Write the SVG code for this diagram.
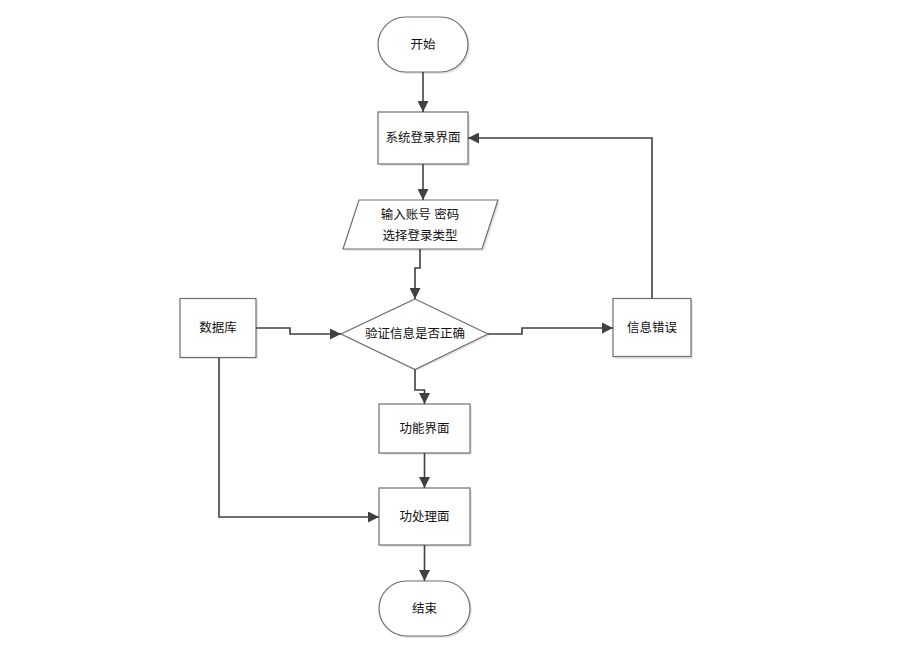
<svg xmlns="http://www.w3.org/2000/svg" width="898" height="650" viewBox="0 0 898 650">
<defs>
<marker id="arr" viewBox="0 0 10 10" refX="10" refY="5" markerWidth="11" markerHeight="11" markerUnits="userSpaceOnUse" orient="auto">
<path d="M0,0 L10,5 L0,10 Z" fill="#404040"/>
</marker>
</defs>
<style>
.sh{fill:#e6e6e6;stroke:none}
.nd{fill:#ffffff;stroke:#6e6e6e;stroke-width:1.2}
.t{font-family:"Liberation Sans","Noto Sans CJK SC",sans-serif;font-size:12.5px;fill:#111;text-anchor:middle;dominant-baseline:central}
.c{fill:none;stroke:#404040;stroke-width:1.6;marker-end:url(#arr)}
.cn{fill:none;stroke:#404040;stroke-width:1.6}
</style>
<rect width="898" height="650" fill="#ffffff"/>
<g id="start">
<rect class="sh" x="380" y="19" width="90" height="55" rx="27.5"/>
<rect class="nd" x="378" y="17" width="90" height="55" rx="27.5"/>
<text class="t" x="423" y="44.5">开始</text>
</g>
<g id="login">
<rect class="sh" x="380" y="114" width="90" height="52"/>
<rect class="nd" x="378" y="112" width="90" height="52"/>
<text class="t" x="423" y="138">系统登录界面</text>
</g>
<g id="input">
<polygon class="sh" points="361,202 500,202 484,251 345,251"/>
<polygon class="nd" points="359,200 498,200 482,249 343,249"/>
<text class="t" x="420" y="215">输入账号 密码</text>
<text class="t" x="420" y="236">选择登录类型</text>
</g>
<g id="check">
<polygon class="sh" points="417,301 490,336 417,371 343,336"/>
<polygon class="nd" points="415,299 488,334 415,369.5 341,334"/>
<text class="t" x="415" y="334">验证信息是否正确</text>
</g>
<g id="db">
<rect class="sh" x="182" y="300" width="76" height="59"/>
<rect class="nd" x="180" y="298.5" width="76" height="59"/>
<text class="t" x="218" y="328">数据库</text>
</g>
<g id="err">
<rect class="sh" x="615" y="300" width="78" height="59"/>
<rect class="nd" x="613" y="298.5" width="78" height="58"/>
<text class="t" x="652" y="328">信息错误</text>
</g>
<g id="func">
<rect class="sh" x="381" y="406" width="91" height="49"/>
<rect class="nd" x="379" y="404" width="91" height="49"/>
<text class="t" x="424.5" y="428.5">功能界面</text>
</g>
<g id="proc">
<rect class="sh" x="381" y="490" width="91" height="57"/>
<rect class="nd" x="379" y="488" width="91" height="57"/>
<text class="t" x="424.5" y="516.5">功处理面</text>
</g>
<g id="end">
<rect class="sh" x="381" y="583" width="91" height="55" rx="27.5"/>
<rect class="nd" x="379" y="581" width="91" height="55" rx="27.5"/>
<text class="t" x="424.5" y="608.5">结束</text>
</g>
<g id="connectors">
<path class="c" d="M423,72 L423,112"/>
<path class="c" d="M423,164 L423,200"/>
<path class="c" d="M420,249 L420,268 L415,268 L415,299"/>
<path class="c" d="M256,328 L290,328 L290,334 L341,334"/>
<path class="c" d="M488,334 L522,334 L522,328 L613,328"/>
<path class="c" d="M652,298.5 L652,138 L468,138"/>
<path class="c" d="M415,369.5 L415,390 L424.5,390 L424.5,404"/>
<path class="c" d="M424.5,453 L424.5,488"/>
<path class="c" d="M219,357.5 L219,517 L379,517"/>
<path class="c" d="M424.5,545 L424.5,581"/>
</g>
</svg>
